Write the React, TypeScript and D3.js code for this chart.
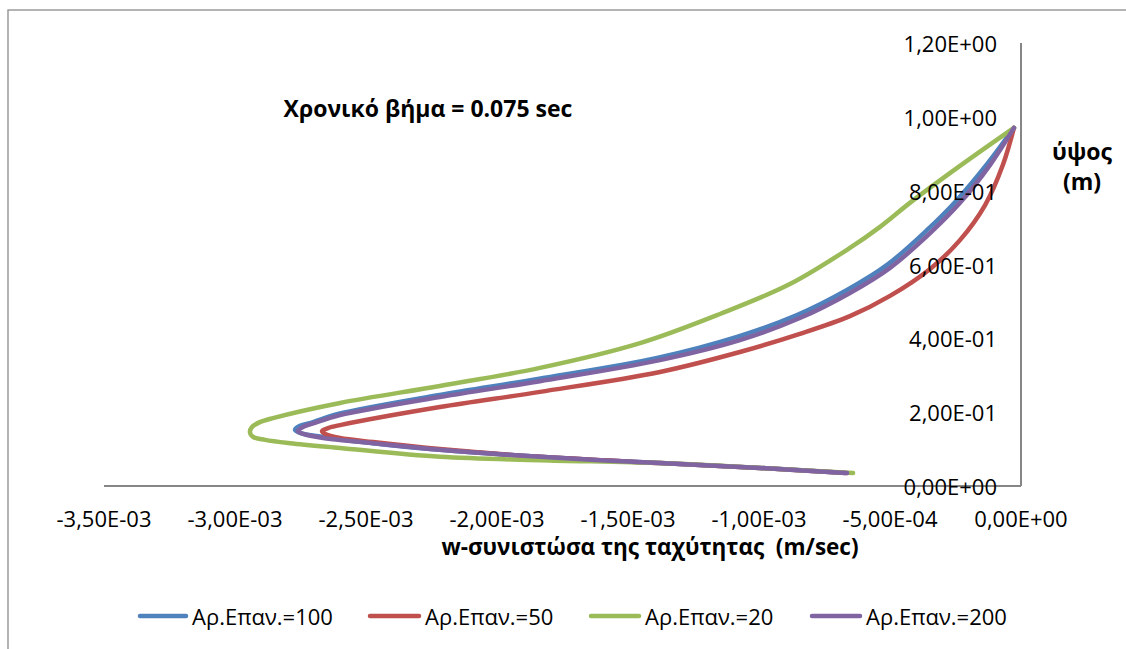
import React from "react";
import * as d3 from "d3";

const WIDTH = 1126;
const HEIGHT = 649;

// Axis ticks
const xTickValues = [-3.5e-3, -3.0e-3, -2.5e-3, -2.0e-3, -1.5e-3, -1.0e-3, -5.0e-4, 0];
const yTickValues = [0, 0.2, 0.4, 0.6, 0.8, 1.0, 1.2];

// Series names
const seriesNames = ["Αρ.Επαν.=100", "Αρ.Επαν.=50", "Αρ.Επαν.=20", "Αρ.Επαν.=200"];
const seriesColors = ["#4F81BD", "#C0504D", "#9BBB59", "#8064A2"];

// w-velocity (x 1e-3 m/sec) and height (m), traced along each profile from bottom to top
const w100 = [-0.672, -0.996, -1.378, -1.836, -2.218, -2.473, -2.664, -2.752, -2.771, -2.752, -2.702, -2.607, -2.225, -1.844, -1.389, -1.084, -0.855, -0.664, -0.511, -0.359, -0.244, -0.126, -0.027];
const z100 = [0.035, 0.049, 0.062, 0.079, 0.098, 0.116, 0.133, 0.144, 0.152, 0.163, 0.173, 0.195, 0.246, 0.29, 0.347, 0.404, 0.463, 0.531, 0.599, 0.693, 0.775, 0.875, 0.97];

const w50 = [-0.664, -0.996, -1.378, -1.836, -2.218, -2.473, -2.599, -2.656, -2.668, -2.645, -2.599, -2.218, -1.836, -1.378, -1.073, -0.844, -0.653, -0.5, -0.347, -0.233, -0.137, -0.069, -0.027];
const z50 = [0.035, 0.049, 0.062, 0.079, 0.1, 0.119, 0.13, 0.141, 0.149, 0.157, 0.165, 0.214, 0.255, 0.309, 0.363, 0.412, 0.46, 0.515, 0.588, 0.666, 0.761, 0.87, 0.97];

const w20 = [-0.641, -0.996, -1.378, -1.836, -2.218, -2.599, -2.79, -2.885, -2.931, -2.943, -2.935, -2.905, -2.855, -2.599, -2.218, -1.836, -1.454, -1.149, -0.882, -0.653, -0.538, -0.424, -0.233, -0.027];
const z20 = [0.035, 0.049, 0.062, 0.07, 0.079, 0.103, 0.116, 0.125, 0.133, 0.146, 0.16, 0.173, 0.184, 0.225, 0.271, 0.32, 0.387, 0.466, 0.547, 0.645, 0.702, 0.767, 0.867, 0.97];

const w200 = [-0.664, -0.996, -1.378, -1.836, -2.218, -2.473, -2.664, -2.74, -2.76, -2.74, -2.695, -2.599, -2.218, -1.836, -1.378, -1.073, -0.844, -0.653, -0.5, -0.347, -0.233, -0.118, -0.027];
const z200 = [0.035, 0.049, 0.062, 0.079, 0.098, 0.116, 0.13, 0.141, 0.149, 0.16, 0.171, 0.192, 0.241, 0.284, 0.341, 0.395, 0.455, 0.523, 0.591, 0.685, 0.767, 0.87, 0.97];

const seriesW = [w100, w50, w20, w200];
const seriesZ = [z100, z50, z20, z200];

const FONT = "'Open Sans', 'Liberation Sans', sans-serif";

function sci(v: number): string {
  if (Math.abs(v) < 1e-12) return "0,00E+00";
  const e = Math.floor(Math.log10(Math.abs(v)) + 1e-9);
  const m = v / Math.pow(10, e);
  const sign = e < 0 ? "-" : "+";
  const ee = String(Math.abs(e)).padStart(2, "0");
  return `${m.toFixed(2).replace(".", ",")}E${sign}${ee}`;
}

export default function App() {
  const x = d3.scaleLinear().domain([-3.5e-3, 0]).range([104, 1021]);
  const y = d3.scaleLinear().domain([0, 1.2]).range([486, 43]);

  const line = d3
    .line<[number, number]>()
    .x((d) => x(d[0] * 1e-3))
    .y((d) => y(d[1]))
    .curve(d3.curveCatmullRom.alpha(0.5));

  const legendItems = [
    { line: 140, text: 192 },
    { line: 370, text: 425 },
    { line: 591, text: 645 },
    { line: 812, text: 866 },
  ];

  return (
    <svg
      width={WIDTH}
      height={HEIGHT}
      style={{ position: "absolute", left: 0, top: 0, background: "#fff" }}
      fontFamily={FONT}
    >
      <rect x={0} y={0} width={WIDTH} height={HEIGHT} fill="#fff" />
      {/* chart frame */}
      <rect x={8} y={10} width={WIDTH + 20} height={HEIGHT + 20} fill="none" stroke="#8c8c8c" strokeWidth={1.3} />

      {/* axes */}
      <line x1={x(-3.5e-3)} x2={x(0)} y1={y(0)} y2={y(0)} stroke="#868686" strokeWidth={2} />
      <line x1={x(0)} x2={x(0)} y1={y(0)} y2={y(1.2)} stroke="#868686" strokeWidth={2} />

      {/* series */}
      {seriesW.map((ws, i) => {
        const pts = ws.map((w, k) => [w, seriesZ[i][k]] as [number, number]);
        return (
          <path
            key={i}
            d={line(pts) || ""}
            fill="none"
            stroke={seriesColors[i]}
            strokeWidth={4.5}
            strokeLinecap="round"
            strokeLinejoin="round"
          />
        );
      })}

      {/* y tick labels */}
      {yTickValues.map((v) => (
        <text key={v} x={997} y={y(v)} textAnchor="end" dominantBaseline="central" fontSize={22} fill="#000">
          {sci(v)}
        </text>
      ))}

      {/* x tick labels */}
      {xTickValues.map((v) => (
        <text key={v} x={x(v)} y={518} textAnchor="middle" dominantBaseline="central" fontSize={22} fill="#000">
          {sci(v)}
        </text>
      ))}

      {/* titles */}
      <text x={428} y={117} textAnchor="middle" fontSize={23} fontWeight="bold" fill="#000">
        Χρονικό βήμα = 0.075 sec
      </text>
      <text x={650} y={555} textAnchor="middle" fontSize={22.5} fontWeight="bold" fill="#000" xmlSpace="preserve">
        {"w-συνιστώσα της ταχύτητας  (m/sec)"}
      </text>
      <text x={1082} y={160} textAnchor="middle" fontSize={23} fontWeight="bold" fill="#000">
        ύψος
      </text>
      <text x={1082} y={190} textAnchor="middle" fontSize={23} fontWeight="bold" fill="#000">
        (m)
      </text>

      {/* legend */}
      {seriesNames.map((name, i) => (
        <g key={name}>
          <line
            x1={legendItems[i].line}
            x2={legendItems[i].text - 6}
            y1={616}
            y2={616}
            stroke={seriesColors[i]}
            strokeWidth={4.5}
            strokeLinecap="round"
          />
          <text x={legendItems[i].text} y={616} dominantBaseline="central" fontSize={22} fill="#000">
            {name}
          </text>
        </g>
      ))}
    </svg>
  );
}
